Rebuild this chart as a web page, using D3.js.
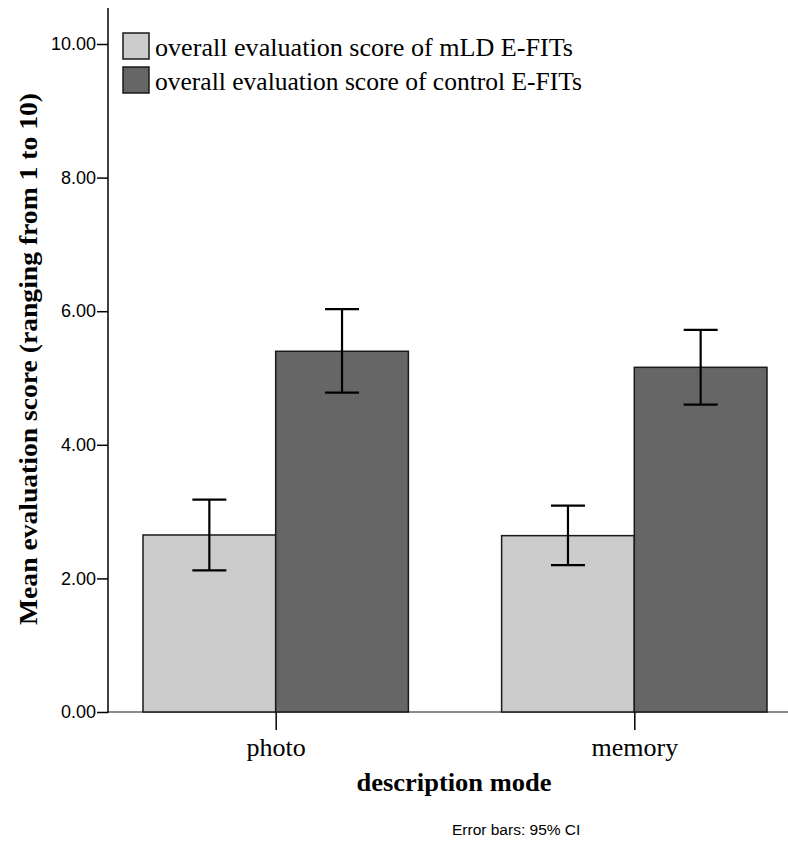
<!DOCTYPE html>
<html><head><meta charset="utf-8">
<script src="https://cdn.jsdelivr.net/npm/d3@7"></script>
<style>body{margin:0;background:#fff}</style>
</head><body>
<svg id="c" width="788" height="849"></svg>
<script>
const categories = ["photo", "memory"];
const seriesNames = ["overall evaluation score of mLD E-FITs", "overall evaluation score of control E-FITs"];
const meanMLD = [2.65, 2.64];
const meanControl = [5.40, 5.16];
const lowMLD = [2.12, 2.20];
const highMLD = [3.18, 3.09];
const lowControl = [4.78, 4.60];
const highControl = [6.03, 5.72];
const yTicks = [0, 2, 4, 6, 8, 10];
const colors = ["#cccccc", "#666666"];

const serif = "Liberation Serif, Times New Roman, serif";
const sans = "Liberation Sans, Arial, sans-serif";
const svg = d3.select("#c");
const y = d3.scaleLinear().domain([0, 10]).range([712, 44]);
const x0 = d3.scaleBand().domain(categories).range([143, 767]).paddingInner(0.26).paddingOuter(0);
const x1 = d3.scaleBand().domain([0, 1]).range([0, x0.bandwidth()]);

const data = [];
categories.forEach((c, i) => {
  data.push({c, s: 0, v: meanMLD[i], lo: lowMLD[i], hi: highMLD[i]});
  data.push({c, s: 1, v: meanControl[i], lo: lowControl[i], hi: highControl[i]});
});

// x axis baseline
svg.append("line").attr("x1", 108).attr("x2", 788).attr("y1", y(0)).attr("y2", y(0))
  .attr("stroke", "#666").attr("stroke-width", 1.5);

// bars
svg.selectAll("rect.bar").data(data).enter().append("rect")
  .attr("x", d => x0(d.c) + x1(d.s))
  .attr("y", d => y(d.v))
  .attr("width", x1.bandwidth())
  .attr("height", d => y(0) - y(d.v))
  .attr("fill", d => colors[d.s])
  .attr("stroke", "#1a1a1a").attr("stroke-width", 1.5);

// error bars
const eb = svg.selectAll("g.eb").data(data).enter().append("g")
  .attr("transform", d => `translate(${x0(d.c) + x1(d.s) + x1.bandwidth() / 2},0)`)
  .attr("stroke", "#000").attr("stroke-width", 2.2);
eb.append("line").attr("x1", 0).attr("x2", 0).attr("y1", d => y(d.lo)).attr("y2", d => y(d.hi));
eb.append("line").attr("x1", -17).attr("x2", 17).attr("y1", d => y(d.lo)).attr("y2", d => y(d.lo));
eb.append("line").attr("x1", -17).attr("x2", 17).attr("y1", d => y(d.hi)).attr("y2", d => y(d.hi));

// y axis
const yAxis = d3.axisLeft(y).tickValues(yTicks).tickFormat(d3.format(".2f")).tickSize(11).tickPadding(1);
const gy = svg.append("g").attr("transform", "translate(108,0)").call(yAxis);
gy.select(".domain").remove();
gy.selectAll(".tick line").attr("stroke", "#000").attr("stroke-width", 1.5);
gy.selectAll(".tick text").attr("font-family", sans).attr("font-size", 18).attr("fill", "#000");
svg.append("line").attr("x1", 108).attr("x2", 108).attr("y1", 8).attr("y2", 712.75)
  .attr("stroke", "#000").attr("stroke-width", 1.5);

// x axis ticks
const xAxis = d3.axisBottom(d3.scalePoint().domain(categories).range([x0("photo") + x0.bandwidth() / 2, x0("memory") + x0.bandwidth() / 2]))
  .tickSize(18).tickPadding(8);
const gx = svg.append("g").attr("transform", `translate(0,${y(0)})`).call(xAxis);
gx.select(".domain").remove();
gx.selectAll(".tick line").attr("stroke", "#000").attr("stroke-width", 1.5);
gx.selectAll(".tick text").attr("font-family", serif).attr("font-size", 26).attr("fill", "#000");

// axis titles
svg.append("text").attr("x", 454).attr("y", 791).attr("text-anchor", "middle")
  .attr("font-family", serif).attr("font-weight", "bold").attr("font-size", 26)
  .attr("textLength", 195).attr("lengthAdjust", "spacingAndGlyphs")
  .text("description mode");
svg.append("text").attr("transform", "translate(37,359) rotate(-90)").attr("text-anchor", "middle")
  .attr("font-family", serif).attr("font-weight", "bold").attr("font-size", 26)
  .attr("textLength", 532).attr("lengthAdjust", "spacingAndGlyphs")
  .text("Mean evaluation score (ranging from 1 to 10)");

svg.append("text").attr("x", 452).attr("y", 835)
  .attr("font-family", sans).attr("font-size", 15.5)
  .text("Error bars: 95% CI");

// legend
const legendWidths = [418, 427];
const lg = svg.selectAll("g.lg").data(seriesNames).enter().append("g")
  .attr("transform", (d, i) => `translate(123,${33 + i * 34})`);
lg.append("rect").attr("width", 26).attr("height", 26).attr("fill", (d, i) => colors[i])
  .attr("stroke", "#1a1a1a").attr("stroke-width", 1.5);
lg.append("text").attr("x", 32).attr("y", 23)
  .attr("font-family", serif).attr("font-size", 25)
  .attr("textLength", (d, i) => legendWidths[i]).attr("lengthAdjust", "spacingAndGlyphs")
  .text(d => d);
</script>
</body></html>
